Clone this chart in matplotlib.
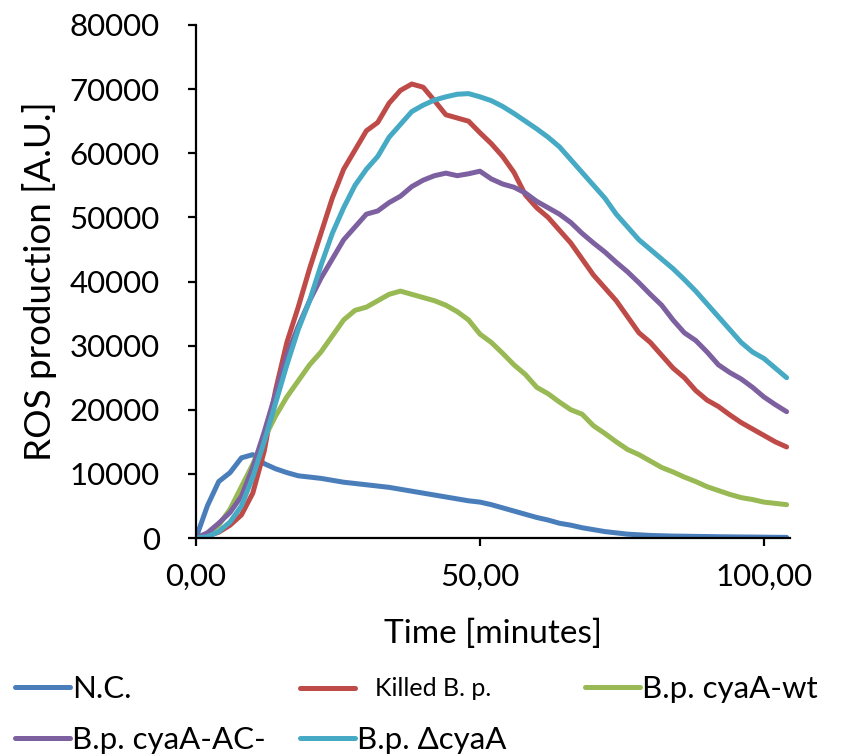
import matplotlib

matplotlib.use("Agg")
import matplotlib.pyplot as plt
from matplotlib.ticker import FuncFormatter

# ---- data (time in minutes, ROS in A.U.) ---------------------------------
TIME = list(range(0, 105, 2))

NC = [0, 5000, 8800, 10200, 12500, 13000, 11600, 10800, 10200, 9700,
      9500, 9300, 9000, 8700, 8500, 8300, 8100, 7900, 7600, 7300,
      7000, 6700, 6400, 6100, 5800, 5600, 5200, 4700, 4200, 3700,
      3200, 2800, 2300, 2000, 1600, 1300, 1000, 800, 600, 500,
      400, 350, 300, 280, 250, 230, 200, 180, 160, 150,
      130, 110, 100]

KILLED = [0, 300, 900, 2000, 3600, 7000, 13500, 23000, 30500, 36000,
          42000, 47500, 53000, 57500, 60500, 63500, 64800, 67800, 69800, 70800,
          70300, 68200, 66000, 65500, 65000, 63200, 61500, 59500, 57000, 53500,
          51500, 50000, 48000, 46000, 43500, 41000, 39000, 37000, 34500, 32000,
          30500, 28500, 26500, 25000, 23000, 21500, 20500, 19200, 18000, 17000,
          16000, 15000, 14200]

WT = [0, 600, 2000, 4500, 8000, 11500, 15500, 19000, 22000, 24500,
      27000, 29000, 31500, 34000, 35500, 36000, 37000, 38000, 38500, 38000,
      37500, 37000, 36300, 35300, 34000, 31800, 30500, 28800, 27000, 25500,
      23500, 22500, 21200, 20000, 19300, 17500, 16300, 15000, 13800, 13000,
      12000, 11000, 10300, 9500, 8800, 8000, 7400, 6800, 6300, 6000,
      5600, 5400, 5200]

AC_MINUS = [0, 800, 2300, 4000, 6500, 11000, 16500, 22500, 28500, 33000,
            37000, 40500, 43500, 46500, 48500, 50500, 51000, 52300, 53300, 54800,
            55800, 56500, 56900, 56500, 56800, 57200, 56000, 55200, 54700, 53800,
            52500, 51500, 50500, 49200, 47500, 46000, 44600, 43000, 41500, 39800,
            38000, 36300, 34000, 32000, 30800, 29000, 27000, 25800, 24800, 23500,
            22000, 20800, 19700]

DELTA = [0, 200, 1000, 2500, 5000, 9500, 15000, 21000, 27000, 32500,
         37000, 42500, 47500, 51500, 55000, 57500, 59500, 62500, 64500, 66500,
         67500, 68300, 68800, 69200, 69300, 68800, 68200, 67300, 66200, 65000,
         63800, 62500, 61000, 59000, 57000, 55000, 53000, 50500, 48500, 46500,
         45000, 43500, 42000, 40300, 38500, 36500, 34500, 32500, 30500, 29000,
         28000, 26500, 25000]

SERIES = [
    ("N.C.", NC, "#4A7EBB"),
    ("Killed B. p.", KILLED, "#BE4B48"),
    ("B.p. cyaA-wt", WT, "#98B954"),
    ("B.p. cyaA-AC-", AC_MINUS, "#7D60A0"),
    ("B.p. \u0394cyaA", DELTA, "#46AAC5"),
]

# legend slots in pixels (x of handle start, y of row centre)
LEGEND_POS = {
    "N.C.": (15, 689),
    "Killed B. p.": (300, 689),
    "B.p. cyaA-wt": (585, 689),
    "B.p. cyaA-AC-": (15, 740),
    "B.p. \u0394cyaA": (300, 740),
}

W, H = 850, 755

plt.rcParams["font.family"] = ["Lato", "DejaVu Sans"]

fig = plt.figure(figsize=(W / 100, H / 100), dpi=100)
ax = fig.add_axes([196 / W, 1 - 538 / H, (790 - 196) / W, (538 - 25) / H])

lines = {}
for name, vals, col in SERIES:
    (ln,) = ax.plot(TIME, vals, color=col, lw=3.6, solid_capstyle="round",
                    solid_joinstyle="round")
    lines[name] = ln

ax.set_xlim(0, 104.6)
ax.set_ylim(0, 80000)
ax.set_xticks([0, 50, 100])
ax.set_yticks(range(0, 80001, 10000))
ax.xaxis.set_major_formatter(FuncFormatter(lambda v, p: f"{v:.2f}".replace(".", ",")))
ax.yaxis.set_major_formatter(FuncFormatter(lambda v, p: f"{int(v)}"))

for sp in ["top", "right"]:
    ax.spines[sp].set_visible(False)
for sp in ["left", "bottom"]:
    ax.spines[sp].set_linewidth(1.6)
    ax.spines[sp].set_color("black")
ax.tick_params(axis="both", direction="out", length=6, width=1.6,
               labelsize=22.5, colors="black")
ax.tick_params(axis="x", pad=12)
ax.tick_params(axis="y", pad=20)

ax.set_xlabel("Time [minutes]", fontsize=24, labelpad=20)
ax.set_ylabel("ROS production [A.U.]", fontsize=26.5, labelpad=9)

# one small legend per entry, placed at the reference's slots
for name, _, _ in SERIES:
    px, py = LEGEND_POS[name]
    small = name.startswith("Killed")
    fs = 18 if small else 22.5
    fig.legend(
        handles=[lines[name]], labels=[name],
        loc="center left", bbox_to_anchor=(px / W, 1 - py / H),
        frameon=False, borderpad=0, borderaxespad=0,
        fontsize=fs,
        handlelength=55 / (fs * 1.389),
        handletextpad=(20 / (fs * 1.389)) if small else 0.08,
    )

fig.savefig("out.png", dpi=100)
